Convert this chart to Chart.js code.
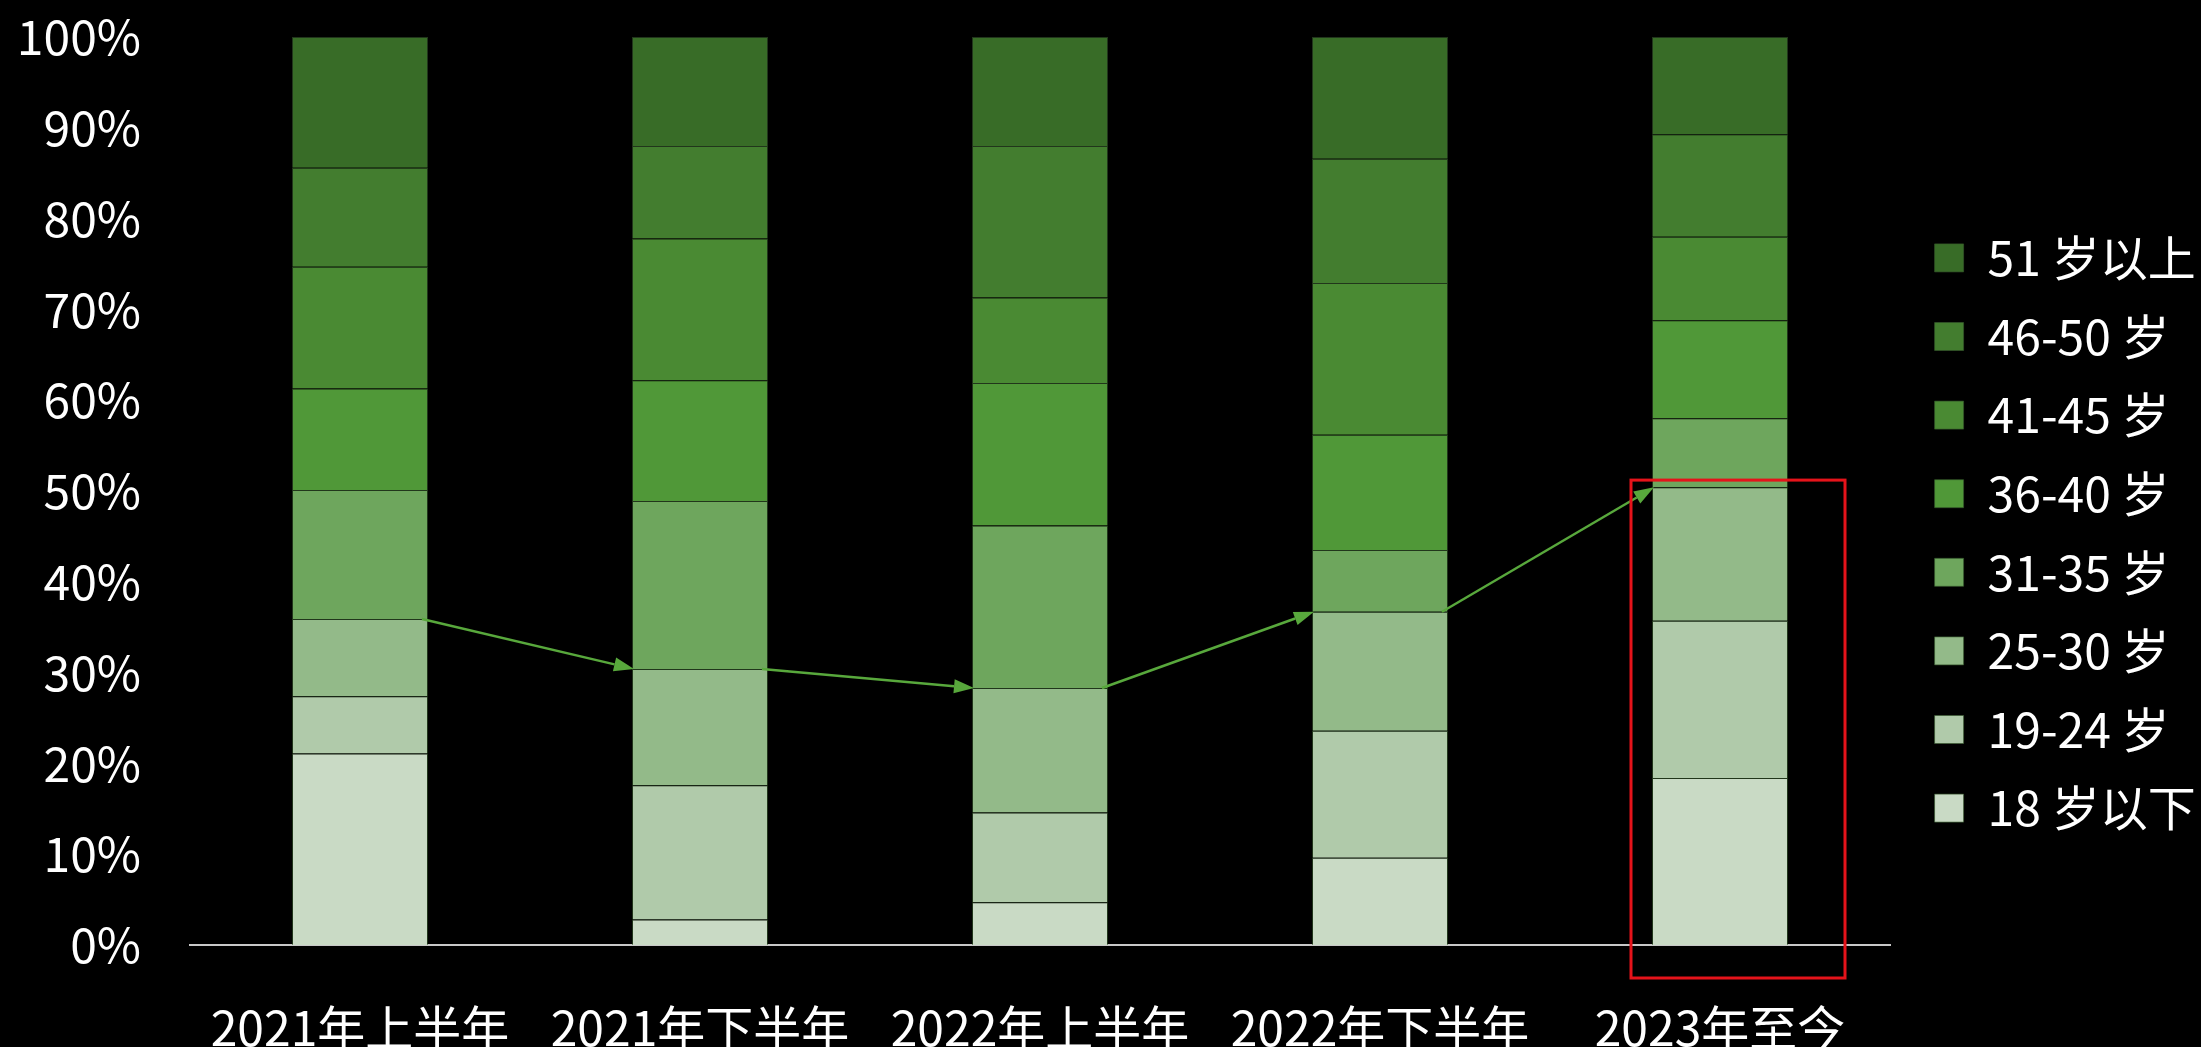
<!DOCTYPE html>
<html>
<head>
<meta charset="utf-8">
<script src="https://cdn.jsdelivr.net/npm/chart.js@4/dist/chart.umd.min.js"></script>
<style>
  html, body { margin: 0; padding: 0; background: #000; overflow: hidden; }
  #plot { display: block; background: #000; }
</style>
</head>
<body>
<canvas id="plot" width="2201" height="1047"></canvas>
<script>
// categories
const periods = ['2021年上半年', '2021年下半年', '2022年上半年', '2022年下半年', '2023年至今'];
// age groups, bottom of the stack first
const ageGroups = ['18 岁以下', '19-24 岁', '25-30 岁', '31-35 岁', '36-40 岁', '41-45 岁', '46-50 岁', '51 岁以上'];
// share of users per period (%)
const under18 = [21.1, 2.8, 4.7, 9.6, 18.4];
const age19to24 = [6.3, 14.8, 9.9, 14.0, 17.3];
const age25to30 = [8.5, 12.8, 13.7, 13.1, 14.7];
const age31to35 = [14.2, 18.5, 17.9, 6.8, 7.6];
const age36to40 = [11.2, 13.3, 15.7, 12.7, 10.8];
const age41to45 = [13.4, 15.6, 9.4, 16.7, 9.2];
const age46to50 = [10.9, 10.2, 16.7, 13.7, 11.3];
const over51 = [14.4, 12.0, 12.0, 13.4, 10.7];
const yTicks = [0, 10, 20, 30, 40, 50, 60, 70, 80, 90, 100];

const colors = ['#C9DAC5', '#B0CAAA', '#93BA89', '#6EA65D', '#509838', '#4A8A33', '#437D2F', '#386C27'];
const series = [under18, age19to24, age25to30, age31to35, age36to40, age41to45, age46to50, over51];

// 30 and under, what the arrows follow
const upTo30 = periods.map((p, i) => under18[i] + age19to24[i] + age25to30[i]);
const highlightTop = 51.2; // top of the red box, in %

Chart.defaults.font.family = '"Noto Sans CJK SC", "Noto Sans", sans-serif';
Chart.defaults.color = '#ffffff';

const canvas = document.getElementById("plot");
const ctx = canvas.getContext('2d');

const data = {
    labels: periods,
    datasets: series.map((values, i) => ({
        label: ageGroups[i],
        data: values,
        backgroundColor: colors[i],
        borderColor: 'rgba(55,90,45,0.6)',
        borderWidth: 1,
        barPercentage: 0.4,
        categoryPercentage: 1
    }))
};

// legend sits a bit away from the plot, as in the picture
const legendPlace = {
    id: 'legendPlace',
    beforeLayout(chart) {
        const lg = chart.legend;
        if (lg && !lg._wrapped) {
            const fit = lg.fit;
            lg.fit = function () { fit.call(this); this.width = 311; };
            lg._wrapped = true;
        }
    },
    afterLayout(chart) {
        const lg = chart.legend;
        lg.left += 14; lg.right += 14;
        lg.top -= 9; lg.bottom -= 9;
    }
};

const arrows = {
    id: 'arrows',
    afterDatasetsDraw(chart) {
        const c = chart.ctx;
        const y = chart.scales.y;
        const bars = chart.getDatasetMeta(0).data;
        c.save();
        c.strokeStyle = '#58A83C';
        c.fillStyle = '#58A83C';
        c.lineWidth = 2.5;
        for (let i = 0; i < bars.length - 1; i++) {
            const a = bars[i], b = bars[i + 1];
            const x1 = a.x + a.width / 2 - 6, y1 = y.getPixelForValue(upTo30[i]);
            const x2 = b.x - b.width / 2 + 2, y2 = y.getPixelForValue(upTo30[i + 1]);
            const ang = Math.atan2(y2 - y1, x2 - x1);
            const len = 20, half = 7;
            const bx = x2 - len * Math.cos(ang), by = y2 - len * Math.sin(ang);
            c.beginPath();
            c.moveTo(x1, y1);
            c.lineTo(bx, by);
            c.stroke();
            c.beginPath();
            c.moveTo(x2, y2);
            c.lineTo(bx + half * Math.sin(ang), by - half * Math.cos(ang));
            c.lineTo(bx - half * Math.sin(ang), by + half * Math.cos(ang));
            c.closePath();
            c.fill();
        }
        c.restore();
    }
};

const redBox = {
    id: 'redBox',
    afterDraw(chart) {
        const c = chart.ctx;
        const y = chart.scales.y;
        const bars = chart.getDatasetMeta(0).data;
        const b = bars[bars.length - 1];
        const left = b.x - b.width / 2 - 21;
        const right = b.x + b.width / 2 + 57;
        const top = y.getPixelForValue(highlightTop);
        const bottom = y.bottom + 33;
        c.save();
        c.strokeStyle = '#E5131A';
        c.lineWidth = 3;
        c.strokeRect(left, top, right - left, bottom - top);
        c.restore();
    }
};

const config = {
    type: 'bar',
    data: data,
    options: {
        responsive: false,
        animation: false,
        devicePixelRatio: 1,
        layout: { padding: { top: 37, left: 0, right: 0, bottom: 0 } },
        scales: {
            x: {
                stacked: true,
                grid: { display: false },
                border: { display: true, color: '#c8c8c8', width: 2 },
                ticks: { color: '#ffffff', font: { size: 48 }, padding: 46, maxRotation: 0, autoSkip: false },
                afterFit(scale) { scale.height = 102; }
            },
            y: {
                stacked: true,
                min: 0,
                max: 100,
                grid: { display: false },
                border: { display: false },
                afterBuildTicks(scale) { scale.ticks = yTicks.map(v => ({ value: v })); },
                ticks: { color: '#ffffff', font: { size: 48 }, padding: 41, callback: v => v + '%' },
                afterFit(scale) {
                    scale.width = 190;
                    scale.paddingTop = 0;
                    scale.paddingBottom = 0;
                }
            }
        },
        plugins: {
            legend: {
                position: 'right',
                reverse: true,
                labels: {
                    color: '#ffffff',
                    font: { size: 48 },
                    boxWidth: 29,
                    boxHeight: 28,
                    padding: 30.6
                }
            },
            tooltip: { enabled: false }
        }
    },
    plugins: [legendPlace, arrows, redBox]
};

const plot = () => {
    let chartStatus = Chart.getChart("plot");
    if (chartStatus != undefined) {
        chartStatus.destroy();
    }
    new Chart(ctx, config);
}

plot();
</script>
</body>
</html>
